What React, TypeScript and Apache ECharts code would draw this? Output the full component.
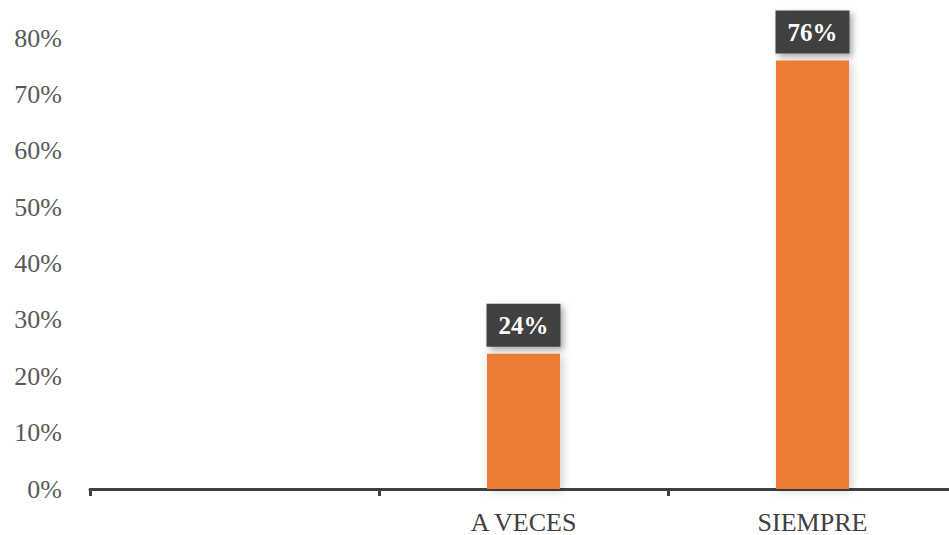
import React, { useEffect, useRef } from "react";
import * as echarts from "echarts";

const categories = ["", "A VECES", "SIEMPRE"];
const values: (number | null)[] = [null, 0.24, 0.76];
const yTicks = { min: 0, max: 0.8, interval: 0.1 };

const FONT = "Liberation Serif";

export default function App() {
  const ref = useRef<HTMLDivElement>(null);
  useEffect(() => {
    if (!ref.current) return;
    document.body.style.overflow = "hidden";
    const chart = echarts.init(ref.current, undefined, { renderer: "svg" });
    chart.setOption({
      animation: false,
      backgroundColor: "#ffffff",
      grid: { left: 90, top: 38, right: 0, bottom: 46, containLabel: false },
      xAxis: {
        type: "category",
        data: categories,
        axisLine: { show: true, lineStyle: { color: "#404040", width: 3 } },
        axisTick: { show: true, length: 7, lineStyle: { color: "#404040", width: 3 } },
        axisLabel: { color: "#404040", fontFamily: FONT, fontSize: 26, margin: 20 },
      },
      yAxis: {
        type: "value",
        min: yTicks.min,
        max: yTicks.max,
        interval: yTicks.interval,
        axisLine: { show: false },
        axisTick: { show: false },
        splitLine: { show: false },
        axisLabel: {
          color: "#595959",
          fontFamily: FONT,
          fontSize: 26,
          margin: 28,
          formatter: (v: number) => `${Math.round(v * 100)}%`,
        },
      },
      series: [
        {
          type: "bar",
          data: values,
          barWidth: 73,
          itemStyle: {
            color: "#ED7D31",
            shadowBlur: 8,
            shadowColor: "rgba(0,0,0,0.18)",
            shadowOffsetX: 3,
            shadowOffsetY: 2,
          },
          label: {
            show: true,
            position: "top",
            distance: 7,
            formatter: (p: any) => `${Math.round(p.value * 100)}%`,
            color: "#ffffff",
            fontFamily: FONT,
            fontWeight: "bold",
            fontSize: 25,
            lineHeight: 27,
            backgroundColor: "#404040",
            padding: [8, 12, 8, 12],
            shadowBlur: 6,
            shadowColor: "rgba(0,0,0,0.35)",
            shadowOffsetX: 3,
            shadowOffsetY: 3,
          },
        },
      ],
    });
    return () => chart.dispose();
  }, []);
  return (
    <div
      ref={ref}
      style={{ position: "fixed", left: 0, top: 0, width: 957, height: 535 }}
    />
  );
}
